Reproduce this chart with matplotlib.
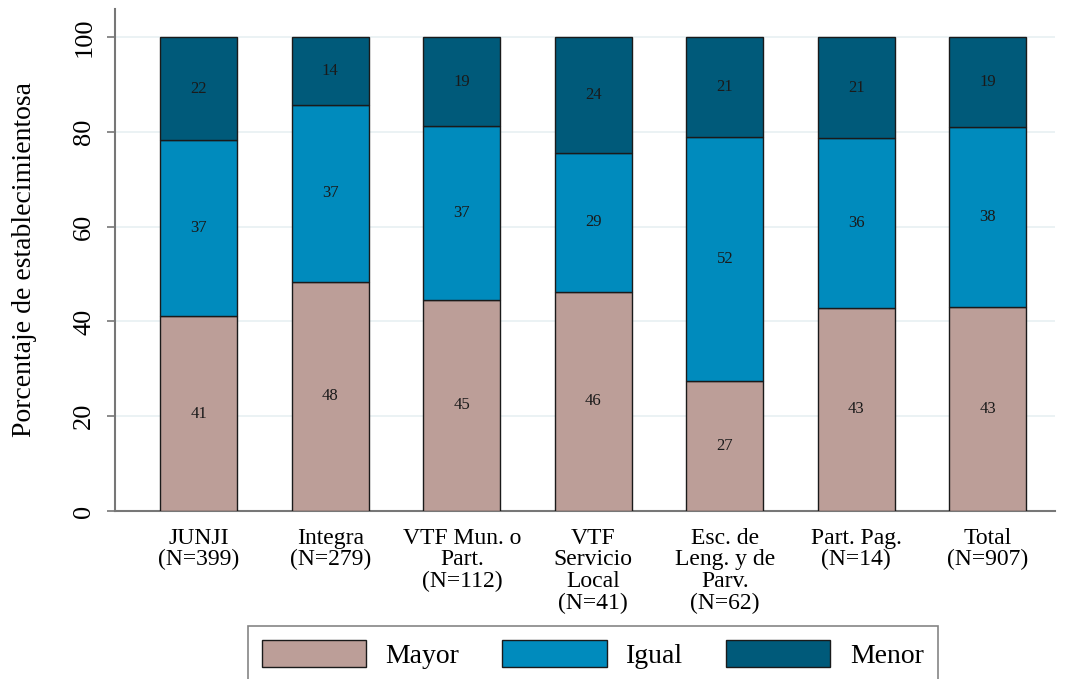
import matplotlib.pyplot as plt
import numpy as np

plt.rcParams['font.family'] = ['Liberation Serif', 'DejaVu Serif']

categorias = ['JUNJI\n(N=399)', 'Integra\n(N=279)', 'VTF Mun. o\nPart.\n(N=112)',
              'VTF\nServicio\nLocal\n(N=41)', 'Esc. de\nLeng. y de\nParv.\n(N=62)',
              'Part. Pag.\n(N=14)', 'Total\n(N=907)']
mayor = [41.1, 48.4, 44.6, 46.3, 27.4, 42.9, 43.0]
igual = [37.1, 37.3, 36.6, 29.3, 51.6, 35.7, 38.0]
menor = [21.8, 14.3, 18.8, 24.4, 21.0, 21.4, 19.0]

series = [('Mayor', mayor, '#bc9e98'), ('Igual', igual, '#008bbd'), ('Menor', menor, '#005a7a')]

fig = plt.figure(figsize=(10.72, 6.79), dpi=100)
ax = fig.add_axes([0.107, 0.2474, 0.877, 0.74])

x = np.arange(len(categorias))
base = np.zeros(len(categorias))
for nombre, vals, color in series:
    vals = np.array(vals)
    ax.bar(x, vals, bottom=base, width=0.585, color=color, edgecolor='#1a1a1a',
           linewidth=1.0, label=nombre, zorder=3)
    for xi, b, v in zip(x, base, vals):
        ax.text(xi, b + v / 2, f'{v:.0f}', ha='center', va='center', fontsize=12,
                color='#1a1a1a', zorder=4)
    base += vals

ax.set_xlim(-0.64, 6.51)
ax.set_ylim(0, 106)
ax.set_yticks([0, 20, 40, 60, 80, 100])
ax.set_yticklabels(['0', '20', '40', '60', '80', '100'], rotation=90, va='center', fontsize=19)
ax.set_xticks(x)
ax.set_xticklabels(categorias, fontsize=17, linespacing=1.04)
ax.tick_params(axis='x', length=0, pad=12)
ax.tick_params(axis='y', length=6, width=1.2, color='#777777', pad=8)
ax.set_ylabel('Porcentaje de establecimientosa', fontsize=20, labelpad=26)
ax.yaxis.grid(True, color='#e8f0f2', linewidth=1.2, zorder=0)
ax.set_axisbelow(True)
for s in ['top', 'right']:
    ax.spines[s].set_visible(False)
for s in ['left', 'bottom']:
    ax.spines[s].set_color('#777777')
    ax.spines[s].set_linewidth(1.5)

leg = fig.legend(loc='upper center', bbox_to_anchor=(0.553, 0.099), ncol=3, fontsize=20,
                 handlelength=3.75, handleheight=1.12, columnspacing=1.55, handletextpad=0.7,
                 fancybox=False, edgecolor='#666666', borderpad=0.5)
leg.get_frame().set_linewidth(1.2)

fig.savefig('out.png', dpi=100)
